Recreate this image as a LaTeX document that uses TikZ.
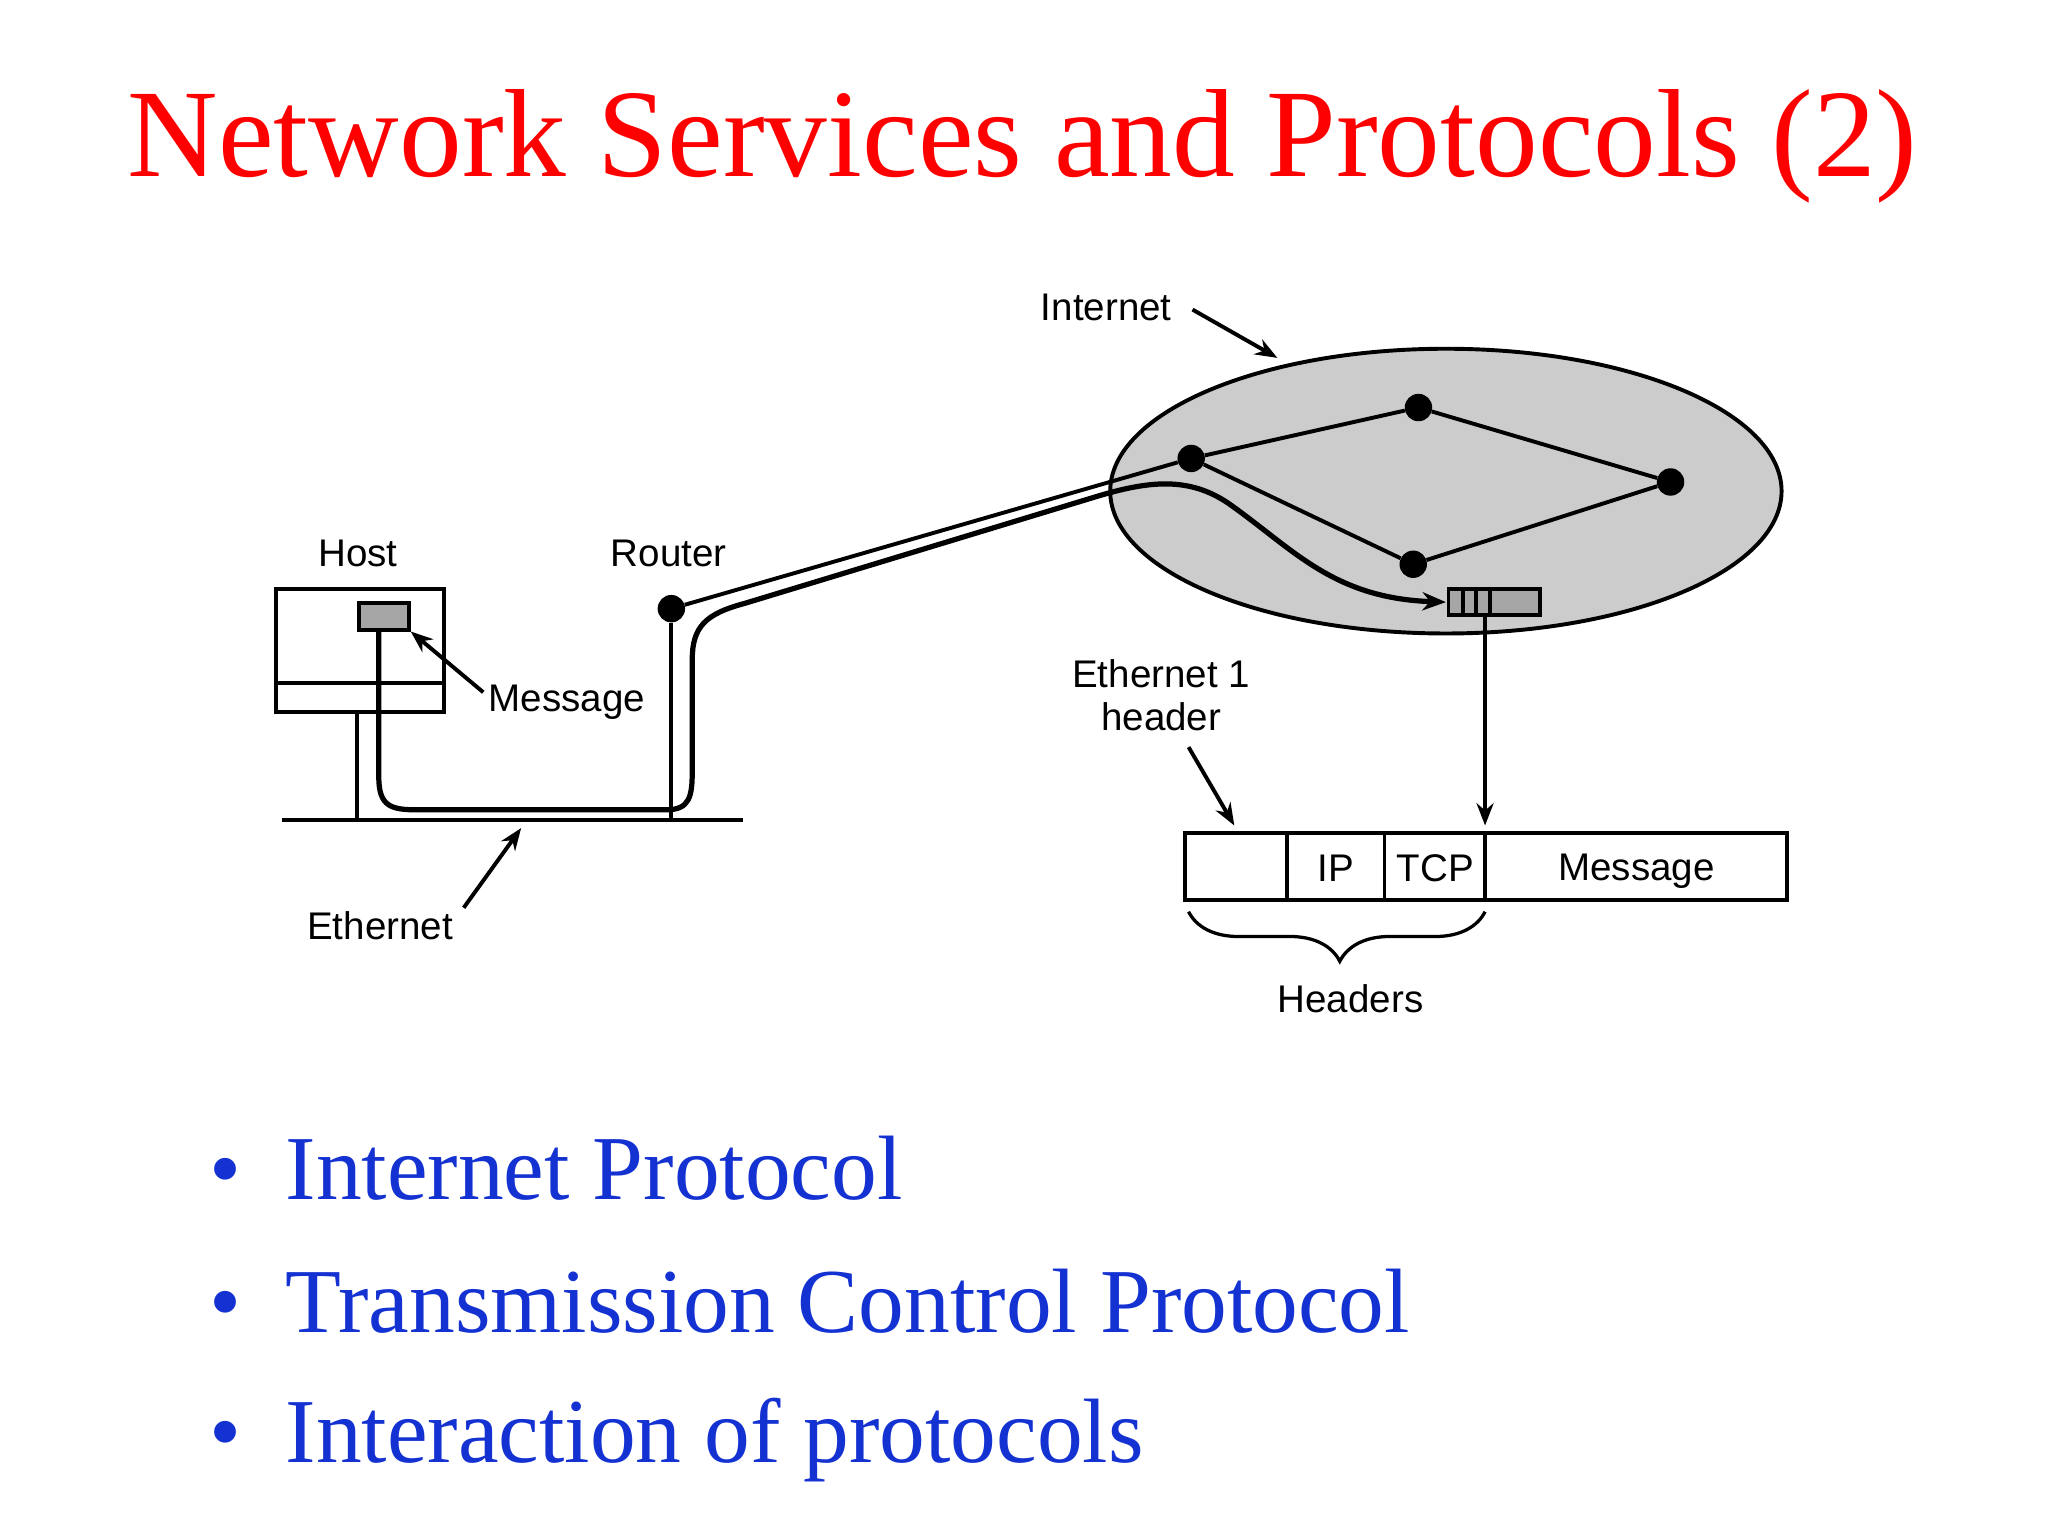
\documentclass[tikz,border=0pt]{standalone}
\usepackage{fontspec}
\setmainfont{Liberation Serif}
\newfontfamily\diag{Liberation Sans}
\usetikzlibrary{arrows.meta,decorations.pathreplacing}
\definecolor{slideblue}{RGB}{20,50,210}
\begin{document}
\begin{tikzpicture}[x=1pt,y=-1pt,
  lw/.style={line width=3pt},
  lbl/.style={font=\diag\fontsize{29.5}{33}\selectfont,inner sep=0pt},
  dotn/.style={circle,fill=black,minimum size=21pt,inner sep=0pt},
  arr/.style={line width=3pt,-{Stealth[length=17pt,width=13pt]}},
  bul/.style={font=\fontsize{70}{80}\selectfont,text=slideblue,anchor=base west,inner sep=0pt}]
\useasboundingbox[fill=white] (0,0) rectangle (1568,1176);
\node[font=\fontsize{96}{110}\selectfont,text=red,anchor=base,inner sep=0pt] (title) at (783,135) {Network Services and Protocols (2)};
% host
\draw[lw] (211,451) rectangle (340,545);
\draw[lw] (211,523) -- (340,523);
\node[draw,lw,fill=gray!70,minimum width=38pt,minimum height=20pt,inner sep=0pt] (msg) at (294,472) {};
\node[lbl] (host) at (274,424) {Host};
\draw[lw] (273,545) -- (273,628);
\draw[lw] (216,628) -- (569,628);
\node[dotn] (router) at (514,466) {};
\node[lbl] (rt) at (512,424) {Router};
\draw[lw] (router) -- (514,628);
% ellipse
\draw[lw,fill=gray!40] (1107,376) ellipse [x radius=257, y radius=109];
\node[dotn] (A) at (912,351) {};
\node[dotn] (B) at (1086,312) {};
\node[dotn] (C) at (1279,369) {};
\node[dotn] (D) at (1082,432) {};
\draw[lw] (A) -- (B) -- (C) -- (D) -- (A);
\draw[lw] (router) -- (A);
% packet
\draw[lw,fill=gray!70] (1109,451) rectangle (1179,471);
\foreach \x in {1120,1130,1141} \draw[lw] (\x,451) -- (\x,471);
\coordinate (pk) at (1107,461);
% thick path
\draw[line width=4pt,-{Stealth[length=18pt,width=14pt]}] (290,482) -- (290,595) .. controls (290,618) and (300,620) .. (320,620) -- (510,620) .. controls (528,620) and (530,610) .. (530,590) -- (530,505) .. controls (530,480) and (540,470) .. (570,462) -- (840,380) .. controls (880,368) and (910,365) .. (940,385) .. controls (990,420) and (1020,458) .. (pk);
% down arrow
\coordinate (pb) at (1137,471);
\coordinate (fr) at (1137,632);
\draw[arr] (pb) -- (fr);
% frame
\draw[lw] (907,638) rectangle (1368,689);
\foreach \x in {985,1060,1137} \draw[lw] (\x,638) -- (\x,689);
\node[lbl] (ip) at (1023,665) {IP};
\node[lbl] (tcp) at (1099,665) {TCP};
\node[lbl] (fm) at (1253,667) {Message};
\draw[line width=2.5pt,decorate,decoration={brace,mirror,amplitude=38pt,aspect=0.51}] (910,698) -- (1137,698);
\node[lbl] (hd) at (1034,765) {Headers};
\node[lbl,align=center] (eh) at (889,532) {Ethernet 1\\header};
\coordinate (ehe) at (945,632);
\draw[arr] (910,572) -- (ehe);
\node[lbl] (inet) at (847,235) {Internet};
\coordinate (ie) at (978,274);
\draw[arr] (913,237) -- (ie);
\node[lbl] (ml) at (434,538) {Message};
\draw[arr] (370,530) -- (msg.south east);
\node[lbl] (eth) at (291,709) {Ethernet};
\coordinate (ee) at (399,634);
\draw[arr] (355,695) -- (ee);
% bullets
\node[bul] (b1) at (160,918) {\textbullet\hspace{34pt}Internet Protocol};
\node[bul] (b2) at (160,1020) {\textbullet\hspace{34pt}Transmission Control Protocol};
\node[bul] (b3) at (160,1120) {\textbullet\hspace{34pt}Interaction of protocols};
\end{tikzpicture}
\end{document}
